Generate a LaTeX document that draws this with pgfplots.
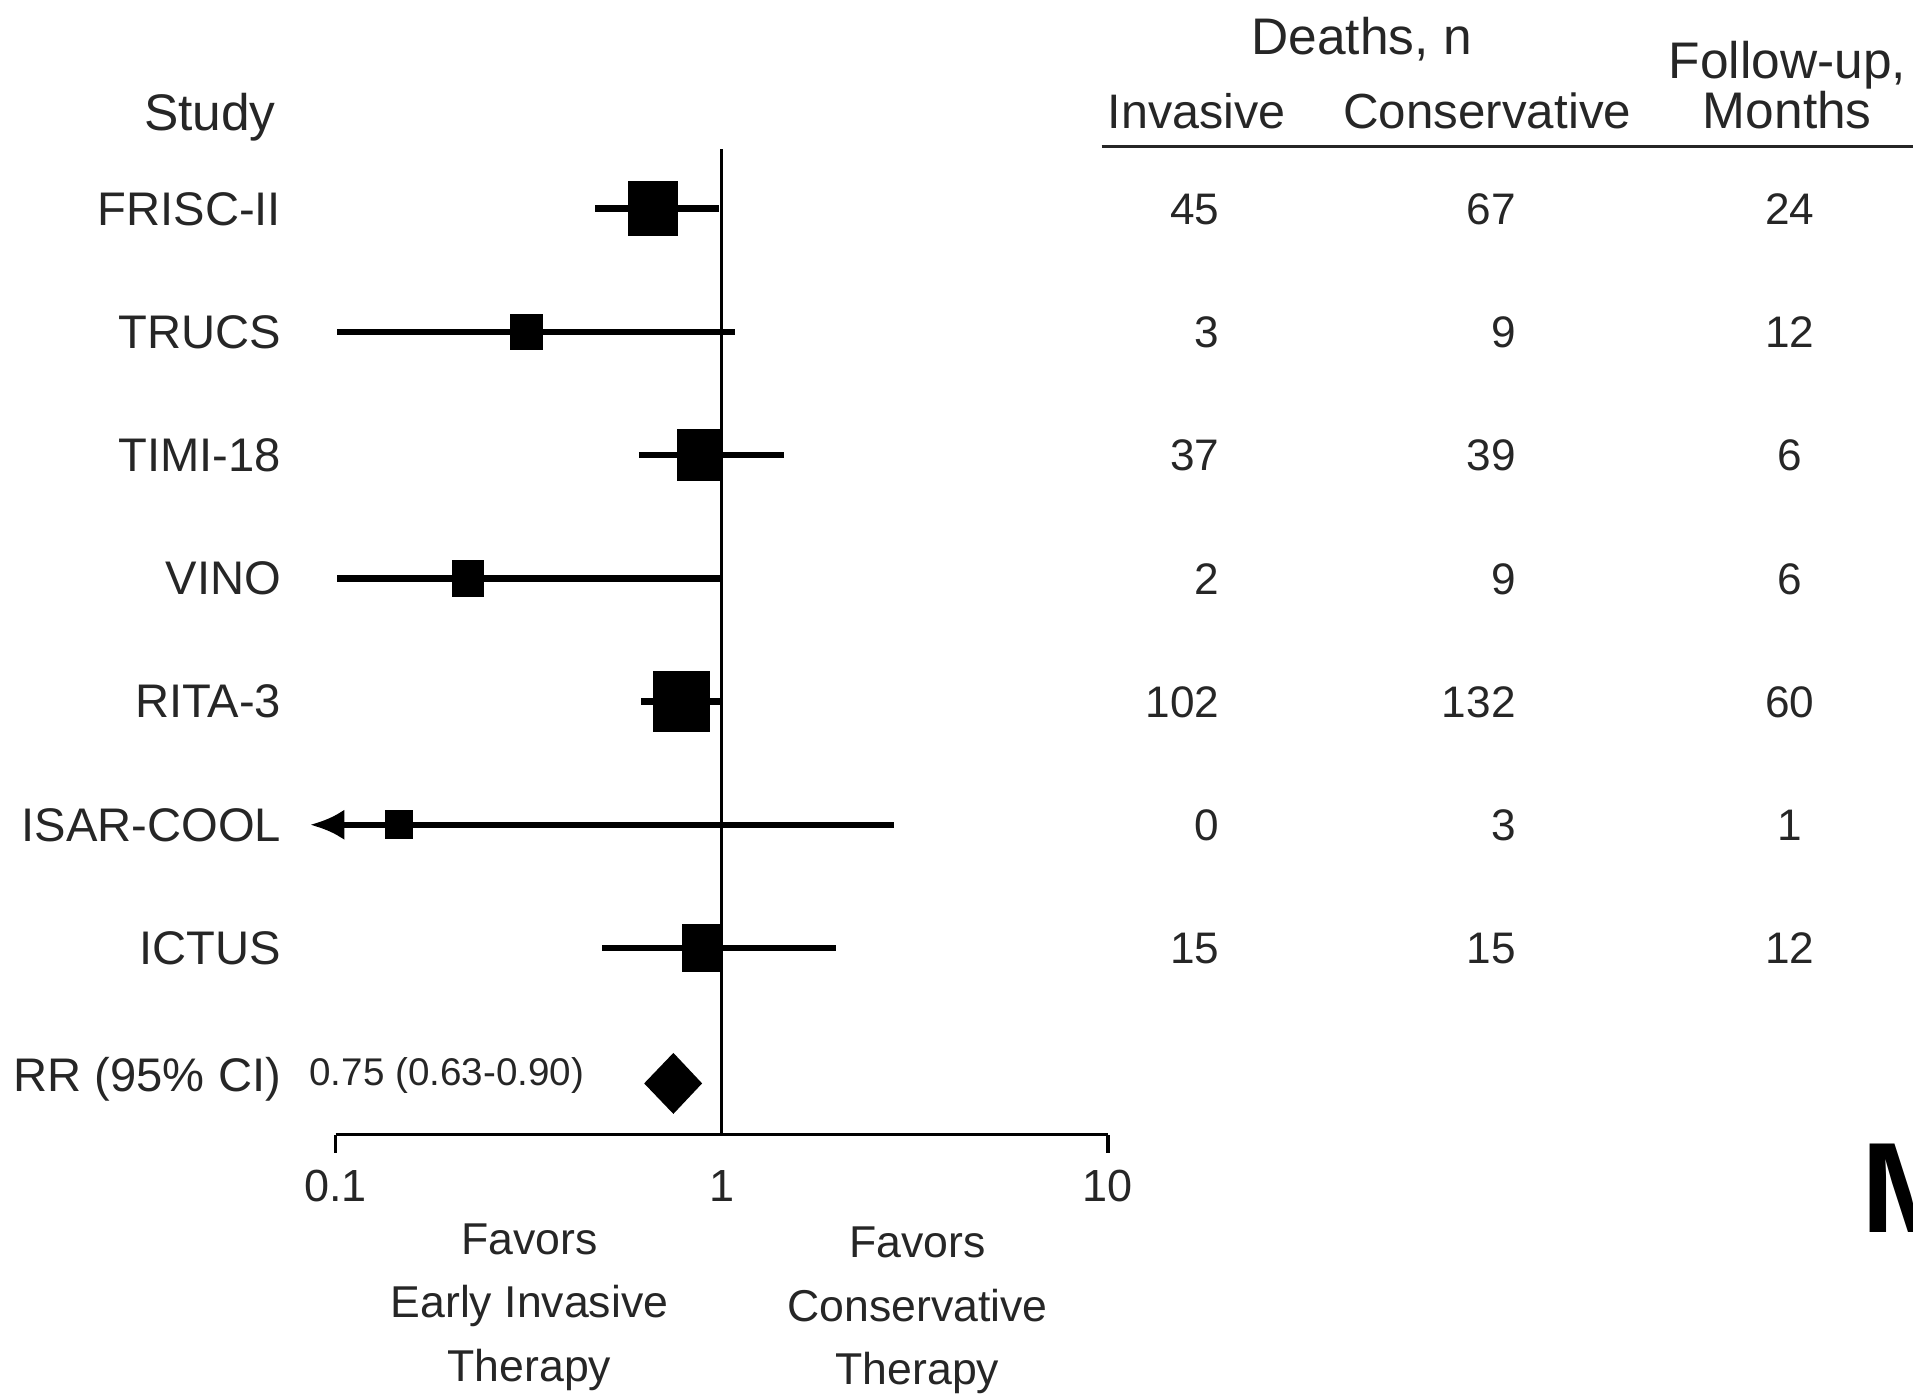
\documentclass[border=0pt]{standalone}
\usepackage{fontspec}
\setmainfont{Liberation Sans}
\usepackage{pgfplots}
\usepackage{pgfplotstable}
\pgfplotsset{compat=1.18}
\usetikzlibrary{arrows.meta}
\definecolor{txt}{gray}{0.15}
\newcommand{\fs}[1]{\fontsize{#1}{#1}\selectfont}

\pgfplotstableread{
y inv cons mon
961 45 67 24
860 3 9 12
759 37 39 6
658 2 9 6
557 102 132 60
456 0 3 1
355 15 15 12
}\deaths

\begin{document}
\begin{tikzpicture}
\path[use as bounding box] (0,0) rectangle (15.68cm,11.45cm);
% ---------- canvas axis: labels and table ----------
\begin{axis}[at={(0cm,0cm)}, anchor=south west, scale only axis,
  width=15.68cm, height=11.45cm, xmin=0, xmax=1568, ymin=0, ymax=1145,
  hide axis, clip=false]
  % headers
  \node[anchor=base, font=\fs{12}, text=txt, inner sep=0pt] at (axis cs:172,1038) {Study};
  \node[anchor=base, font=\fs{12}, text=txt, inner sep=0pt] at (axis cs:1116,1100) {Deaths, n};
  \node[anchor=base, font=\fs{11.3}, text=txt, inner sep=0pt] at (axis cs:981,1040) {Invasive};
  \node[anchor=base, font=\fs{11.5}, text=txt, inner sep=0pt] at (axis cs:1219,1040) {Conservative};
  \node[anchor=base, font=\fs{12}, text=txt, inner sep=0pt] at (axis cs:1465,1081) {Follow-up,};
  \node[anchor=base, font=\fs{12}, text=txt, inner sep=0pt] at (axis cs:1465,1040) {Months};
  \draw[line width=0.85pt, black!85] (axis cs:903,1025) -- (axis cs:1580,1025);
  % row labels
  \node[anchor=base east, font=\fs{11}, text=txt, inner sep=0pt] at (axis cs:231,960.5) {FRISC-II};
  \node[anchor=base east, font=\fs{11}, text=txt, inner sep=0pt] at (axis cs:231,859.5) {TRUCS};
  \node[anchor=base east, font=\fs{11}, text=txt, inner sep=0pt] at (axis cs:231,758.5) {TIMI-18};
  \node[anchor=base east, font=\fs{11}, text=txt, inner sep=0pt] at (axis cs:231,657.5) {VINO};
  \node[anchor=base east, font=\fs{11}, text=txt, inner sep=0pt] at (axis cs:231,556.5) {RITA-3};
  \node[anchor=base east, font=\fs{11}, text=txt, inner sep=0pt] at (axis cs:231,455.5) {ISAR-COOL};
  \node[anchor=base east, font=\fs{11}, text=txt, inner sep=0pt] at (axis cs:231,354.5) {ICTUS};
  \node[anchor=base east, font=\fs{11}, text=txt, inner sep=0pt] at (axis cs:231,250) {RR (95\% CI)};
  \node[anchor=base west, font=\fs{9}, text=txt, inner sep=0pt] at (axis cs:253,255) {0.75 (0.63-0.90)};
  % favors
  \node[anchor=base, font=\fs{10.4}, text=txt, inner sep=0pt] at (axis cs:434,117) {Favors};
  \node[anchor=base, font=\fs{10.4}, text=txt, inner sep=0pt] at (axis cs:434,65) {Early Invasive};
  \node[anchor=base, font=\fs{10.4}, text=txt, inner sep=0pt] at (axis cs:434,13) {Therapy};
  \node[anchor=base, font=\fs{10.4}, text=txt, inner sep=0pt] at (axis cs:752,114) {Favors};
  \node[anchor=base, font=\fs{10.4}, text=txt, inner sep=0pt] at (axis cs:752,62) {Conservative};
  \node[anchor=base, font=\fs{10.4}, text=txt, inner sep=0pt] at (axis cs:752,10) {Therapy};
  % table numbers
  \addplot[draw=none, mark=none, nodes near coords, point meta=explicit symbolic,
    nodes near coords style={anchor=base east, inner sep=0pt, font=\fs{10.3}, text=txt}]
    table[x expr=1000, y=y, meta=inv] {\deaths};
  \addplot[draw=none, mark=none, nodes near coords, point meta=explicit symbolic,
    nodes near coords style={anchor=base east, inner sep=0pt, font=\fs{10.3}, text=txt}]
    table[x expr=1243, y=y, meta=cons] {\deaths};
  \addplot[draw=none, mark=none, nodes near coords, point meta=explicit symbolic,
    nodes near coords style={anchor=base, inner sep=0pt, font=\fs{10.3}, text=txt}]
    table[x expr=1467, y=y, meta=mon] {\deaths};
  % panel letter (cut by the right edge, as in the original)
  \node[anchor=base west, font=\fontsize{30}{30}\selectfont\bfseries, text=black, inner sep=0pt] at (axis cs:1525,135) {M};
\end{axis}
% ---------- forest plot axis ----------
\begin{axis}[at={(2.75cm,2.15cm)}, anchor=south west, scale only axis,
  width=6.33cm, height=9.30cm,
  xmode=log, log basis x=10, xmin=0.1, xmax=10, ymin=215, ymax=1145,
  axis x line=bottom, axis y line=none,
  axis line style={-, line width=0.8pt, black},
  xtick={0.1,10}, xticklabels={0.1,10}, xminorticks=false,
  extra x ticks={1}, extra x tick labels={1},
  extra x tick style={major tick length=0pt, xticklabel style={yshift=-1.5mm}},
  tick align=outside, major tick length=1.5mm,
  every tick/.style={black, line width=0.8pt},
  xticklabel style={font=\fs{10.5}, text=txt, anchor=base, inner sep=0pt, yshift=-4.0mm},
  clip=false]
  % reference line
  \addplot[black, line width=0.6pt] coordinates {(1,215) (1,1023)};
  % confidence intervals
  \addplot[black, line width=1.5pt] coordinates {(0.47,974) (0.985,974)};
  \addplot[black, line width=1.5pt] coordinates {(0.101,873) (1.08,873)};
  \addplot[black, line width=1.5pt] coordinates {(0.61,772) (1.45,772)};
  \addplot[black, line width=1.5pt] coordinates {(0.101,671) (1.0,671)};
  \addplot[black, line width=1.5pt] coordinates {(0.62,570) (0.99,570)};
  \addplot[black, line width=1.5pt, {Latex[length=2.8mm,width=2.5mm]}-] coordinates {(0.086,469) (2.79,469)};
  \addplot[black, line width=1.5pt] coordinates {(0.49,368) (1.98,368)};
  % point estimates
  \addplot[only marks, mark=square*, mark size=2.0mm, mark options={fill=black, draw=none, yscale=1.08}] coordinates {(0.665,974)};
  \addplot[only marks, mark=square*, mark size=1.3mm, mark options={fill=black, draw=none, yscale=1.08}] coordinates {(0.312,873)};
  \addplot[only marks, mark=square*, mark size=1.8mm, mark options={fill=black, draw=none, yscale=1.15}] coordinates {(0.877,772)};
  \addplot[only marks, mark=square*, mark size=1.25mm, mark options={fill=black, draw=none, yscale=1.15}] coordinates {(0.22,671)};
  \addplot[only marks, mark=square*, mark size=2.3mm, mark options={fill=black, draw=none, yscale=1.04}] coordinates {(0.787,570)};
  \addplot[only marks, mark=square*, mark size=1.1mm, mark options={fill=black, draw=none}] coordinates {(0.146,469)};
  \addplot[only marks, mark=square*, mark size=1.6mm, mark options={fill=black, draw=none, yscale=1.19}] coordinates {(0.89,368)};
  % pooled estimate
  \addplot[fill=black, draw=none] coordinates {(0.63,257) (0.75,282) (0.89,257) (0.75,232)};
\end{axis}
\end{tikzpicture}
\end{document}
